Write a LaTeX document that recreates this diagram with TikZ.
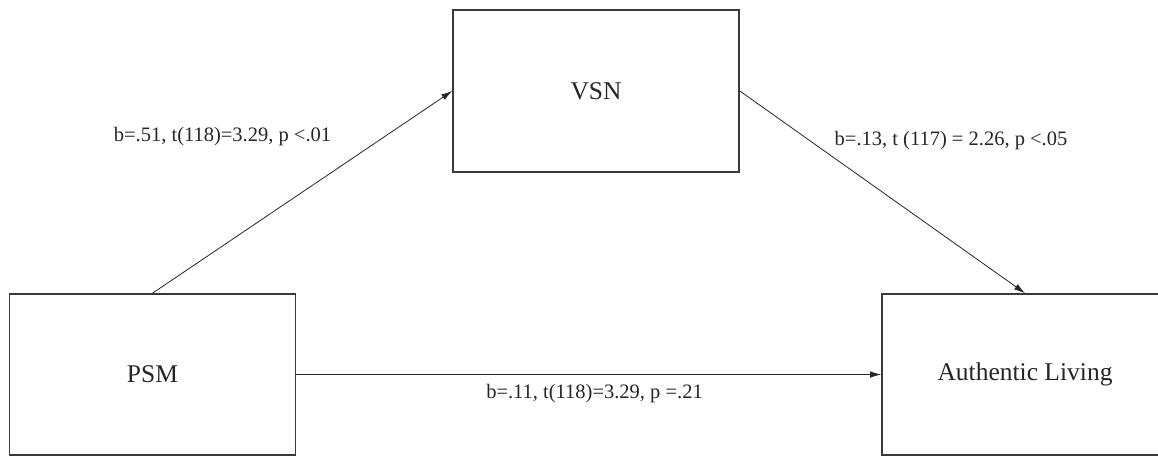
\documentclass[tikz,border=0pt]{standalone}
\usepackage{fontspec}
\setmainfont{Liberation Serif}
\usetikzlibrary{arrows.meta}
\definecolor{boxline}{HTML}{3A3A3A}
\definecolor{txt}{HTML}{262626}
\tikzset{
  varbox/.style={draw=boxline, line width=1.6pt, rectangle, inner sep=0pt,
    minimum width=286pt, minimum height=161pt, text=txt,
    font=\fontsize{25.5}{30}\selectfont},
  pathline/.style={draw=black!85, line width=0.8pt,
    -{Latex[length=11pt,width=6.5pt]}},
  coef/.style={text=txt, inner sep=0pt, font=\fontsize{20.5}{24}\selectfont}
}
\begin{document}
\begin{tikzpicture}[x=1pt,y=-1pt]
\useasboundingbox (0,0) rectangle (1158,456);
\clip (0,0) rectangle (1158,456);
\fill[white] (0,0) rectangle (1158,456);
\node[varbox] (psm) at (152.5,374.5) {PSM};
\node[varbox, minimum height=162pt] (vsn) at (596,91) {VSN};
\node[varbox] (al) at (1025,374.5) {Authentic Living};
\draw[pathline] (psm.north) -- (vsn.west);
\draw[pathline] (vsn.east) -- (al.north);
\draw[pathline] (psm.east) -- (al.west);
\node[coef] (c1) at (222.5,137) {b=.51, t(118)=3.29, p <.01};
\node[coef] (c2) at (951,141) {b=.13, t (117) = 2.26, p <.05};
\node[coef] (c3) at (594.5,394) {b=.11, t(118)=3.29, p =.21};
\end{tikzpicture}
\end{document}
